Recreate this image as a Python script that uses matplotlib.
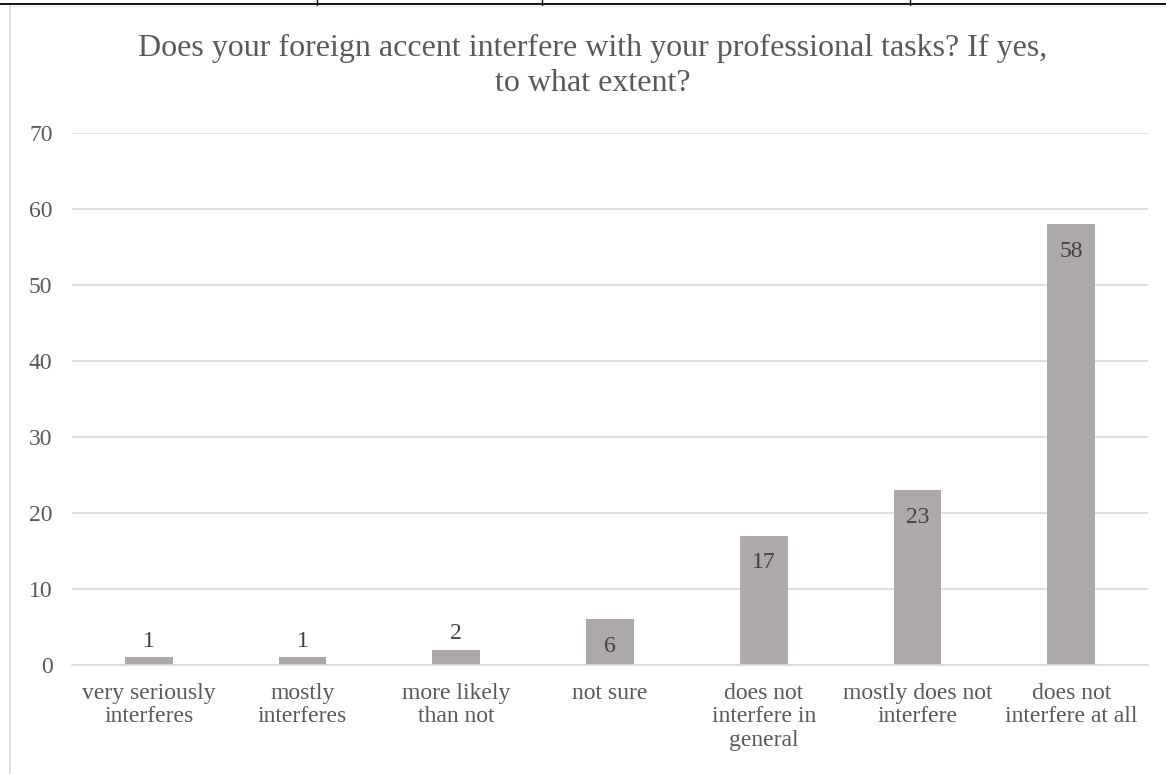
import matplotlib.pyplot as plt
from matplotlib.lines import Line2D

plt.rcParams['font.family'] = ['Liberation Serif', 'DejaVu Serif']

categories = ['very seriously\ninterferes', 'mostly\ninterferes', 'more likely\nthan not',
              'not sure', 'does not\ninterfere in\ngeneral', 'mostly does not\ninterfere',
              'does not\ninterfere at all']
counts = [1, 1, 2, 6, 17, 23, 58]
title = 'Does your foreign accent interfere with your professional tasks? If yes,\nto what extent?'

bar_color = '#ADA9A8'
text_color = '#595959'
grid_color = '#D9D9D9'

W, H = 1166, 774
fig = plt.figure(figsize=(W / 100, H / 100), dpi=100)
ax = fig.add_axes([72 / W, 1 - 665 / H, (1148 - 72) / W, (665 - 133) / H])

x = list(range(len(counts)))
bars = ax.bar(x, counts, width=0.31, color=bar_color, zorder=2)

# small bars get the label above, taller ones inside near the top
for b, v in zip(bars, counts):
    cx = b.get_x() + b.get_width() / 2
    if v >= 6:
        ax.annotate(str(v), (cx, v), xytext=(0, -12), textcoords='offset points',
                    ha='center', va='top', fontsize=17, color='#404040', zorder=3)
    else:
        ax.annotate(str(v), (cx, v), xytext=(0, 4), textcoords='offset points',
                    ha='center', va='bottom', fontsize=17, color='#404040', zorder=3)

ax.set_xlim(-0.5, len(counts) - 0.5)
ax.set_ylim(0, 70)
ax.set_yticks(range(0, 71, 10))
ax.yaxis.grid(True, color=grid_color, linewidth=1.2, zorder=0)
ax.set_axisbelow(True)
ax.set_xticks(x)
ax.set_xticklabels(categories, fontsize=17, color=text_color, linespacing=1.15)
ax.tick_params(axis='y', labelsize=17, labelcolor=text_color, length=0, pad=14)
ax.tick_params(axis='x', length=0, pad=13)
for s in ['top', 'right', 'left']:
    ax.spines[s].set_visible(False)
ax.spines['bottom'].set_color(grid_color)
ax.spines['bottom'].set_linewidth(1.2)

fig.text(593 / W, 1 - 66 / H, title, ha='center', va='center', fontsize=23,
         color=text_color, linespacing=1.25)

# table borders around the embedded chart
fig.add_artist(Line2D([0, 1], [1 - 4 / H] * 2, color='black', linewidth=1.3,
                      transform=fig.transFigure))
for px in [317, 542, 910]:
    fig.add_artist(Line2D([px / W] * 2, [1 - 5 / H, 1], color='black', linewidth=1.0,
                          transform=fig.transFigure))
fig.add_artist(Line2D([10 / W] * 2, [0, 1 - 6 / H], color='#D9D9D9', linewidth=1.2,
                      transform=fig.transFigure))
fig.add_artist(Line2D([10 / W, 1], [1 - 6 / H] * 2, color='#E6E6E6', linewidth=0.8,
                      transform=fig.transFigure))

fig.savefig('out.png', dpi=100)
